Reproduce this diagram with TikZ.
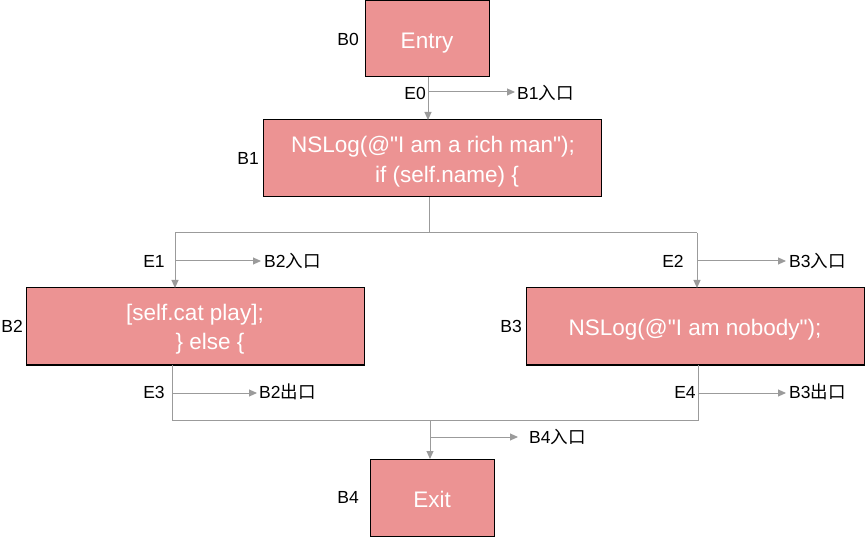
\documentclass[tikz,border=0pt]{standalone}
\usepackage{fontspec}
\setmainfont{Liberation Sans}
\newfontfamily\cjk{Noto Sans CJK SC}
\font\codefnt="Liberation Sans" at 22.5pt
\usetikzlibrary{arrows.meta}
\definecolor{boxfill}{HTML}{EC9393}
\definecolor{linegray}{HTML}{9B9B9B}
\tikzset{
  blk/.style={draw=black, line width=1pt, fill=boxfill, inner sep=0pt},
  codetxt/.style={inner sep=0pt, anchor=base, text=white, font=\codefnt},
  lbl/.style={inner sep=0pt, text=black, font=\fontsize{17.5}{20}\selectfont},
  conn/.style={draw=linegray, line width=1pt},
  arr/.style={-{Triangle[length=8pt,width=7pt]}},
}
\begin{document}
\begin{tikzpicture}[x=1pt,y=-1pt]
\useasboundingbox (0,0) rectangle (865,537);
% blocks
\node[blk, minimum width=124pt, minimum height=76pt] (b0) at (427,39) {};
\node[codetxt] (b0t) at (427,49) {Entry};
\node[blk, minimum width=338pt, minimum height=77pt] (b1) at (432,158.5) {};
\node[codetxt] (b1t1) at (433,153) {NSLog(@"I am a rich man");};
\node[codetxt] (b1t2) at (447,183) {if (self.name) \{};
\node[blk, minimum width=338pt, minimum height=77pt] (b2) at (195,326.5) {};
\node[codetxt] (b2t1) at (195,321) {[self.cat play];};
\node[codetxt] (b2t2) at (210,350) {\} else \{};
\node[blk, minimum width=338pt, minimum height=77pt] (b3) at (695,326.5) {};
\node[codetxt] (b3t) at (695,336) {NSLog(@"I am nobody");};
\node[blk, minimum width=124pt, minimum height=77pt] (b4) at (432,497.5) {};
\node[codetxt] (b4t) at (432,507) {Exit};
% block labels
\node[lbl, anchor=east] (lb0) at (359,39.5) {B0};
\node[lbl, anchor=east] (lb1) at (259,158) {B1};
\node[lbl, anchor=east] (lb2) at (23,326) {B2};
\node[lbl, anchor=east] (lb3) at (522,326) {B3};
\node[lbl, anchor=east] (lb4) at (359,497) {B4};
% edge labels
\node[lbl, anchor=east] (le0) at (426,93) {E0};
\node[lbl] (le1) at (154,261) {E1};
\node[lbl] (le2) at (673,261) {E2};
\node[lbl] (le3) at (154,392) {E3};
\node[lbl] (le4) at (685,392) {E4};
% entry/exit labels
\node[lbl, anchor=west] (b1in) at (517,93) {B1{\cjk 入口}};
\node[lbl, anchor=west] (b2in) at (264,261) {B2{\cjk 入口}};
\node[lbl, anchor=west] (b3in) at (789,261) {B3{\cjk 入口}};
\node[lbl, anchor=west] (b2out) at (259,392) {B2{\cjk 出口}};
\node[lbl, anchor=west] (b3out) at (789,392) {B3{\cjk 出口}};
\node[lbl, anchor=west] (b4in) at (529,437) {B4{\cjk 入口}};
% coordinates
\coordinate (b0o) at (428,77);
\coordinate (b1i) at (428,120);
\coordinate (e0) at (428,92);
\coordinate (b1o) at (429,197);
\coordinate (s1) at (429,233);
\coordinate (sl) at (175,233);
\coordinate (sr) at (697,233);
\coordinate (b2i) at (175,288);
\coordinate (b3i) at (697,288);
\coordinate (e1) at (175,261);
\coordinate (e2) at (697,261);
\coordinate (b2o) at (172,365);
\coordinate (b3o) at (698,365);
\coordinate (jl) at (172,420);
\coordinate (jr) at (698,420);
\coordinate (j) at (430,420);
\coordinate (b4i) at (430,459);
\coordinate (e3) at (172,393);
\coordinate (e4) at (698,393);
\coordinate (e5) at (430,437);
% connectors
\draw[conn, arr] (b0o) -- (b1i);
\draw[conn, arr, shorten >=2pt] (e0) -- (e0 -| b1in.west);
\draw[conn] (b1o) -- (s1);
\draw[conn] (sl) -- (sr);
\draw[conn, arr] (sl) -- (b2i);
\draw[conn, arr] (sr) -- (b3i);
\draw[conn, arr, shorten >=3pt] (e1) -- (e1 -| b2in.west);
\draw[conn, arr, shorten >=3pt] (e2) -- (e2 -| b3in.west);
\draw[conn] (b2o) -- (jl) -- (jr) -- (b3o);
\draw[conn, arr] (j) -- (b4i);
\draw[conn, arr, shorten >=2pt] (e3) -- (e3 -| b2out.west);
\draw[conn, arr, shorten >=3pt] (e4) -- (e4 -| b3out.west);
\draw[conn, arr, shorten >=11pt] (e5) -- (e5 -| b4in.west);
\end{tikzpicture}
\end{document}
